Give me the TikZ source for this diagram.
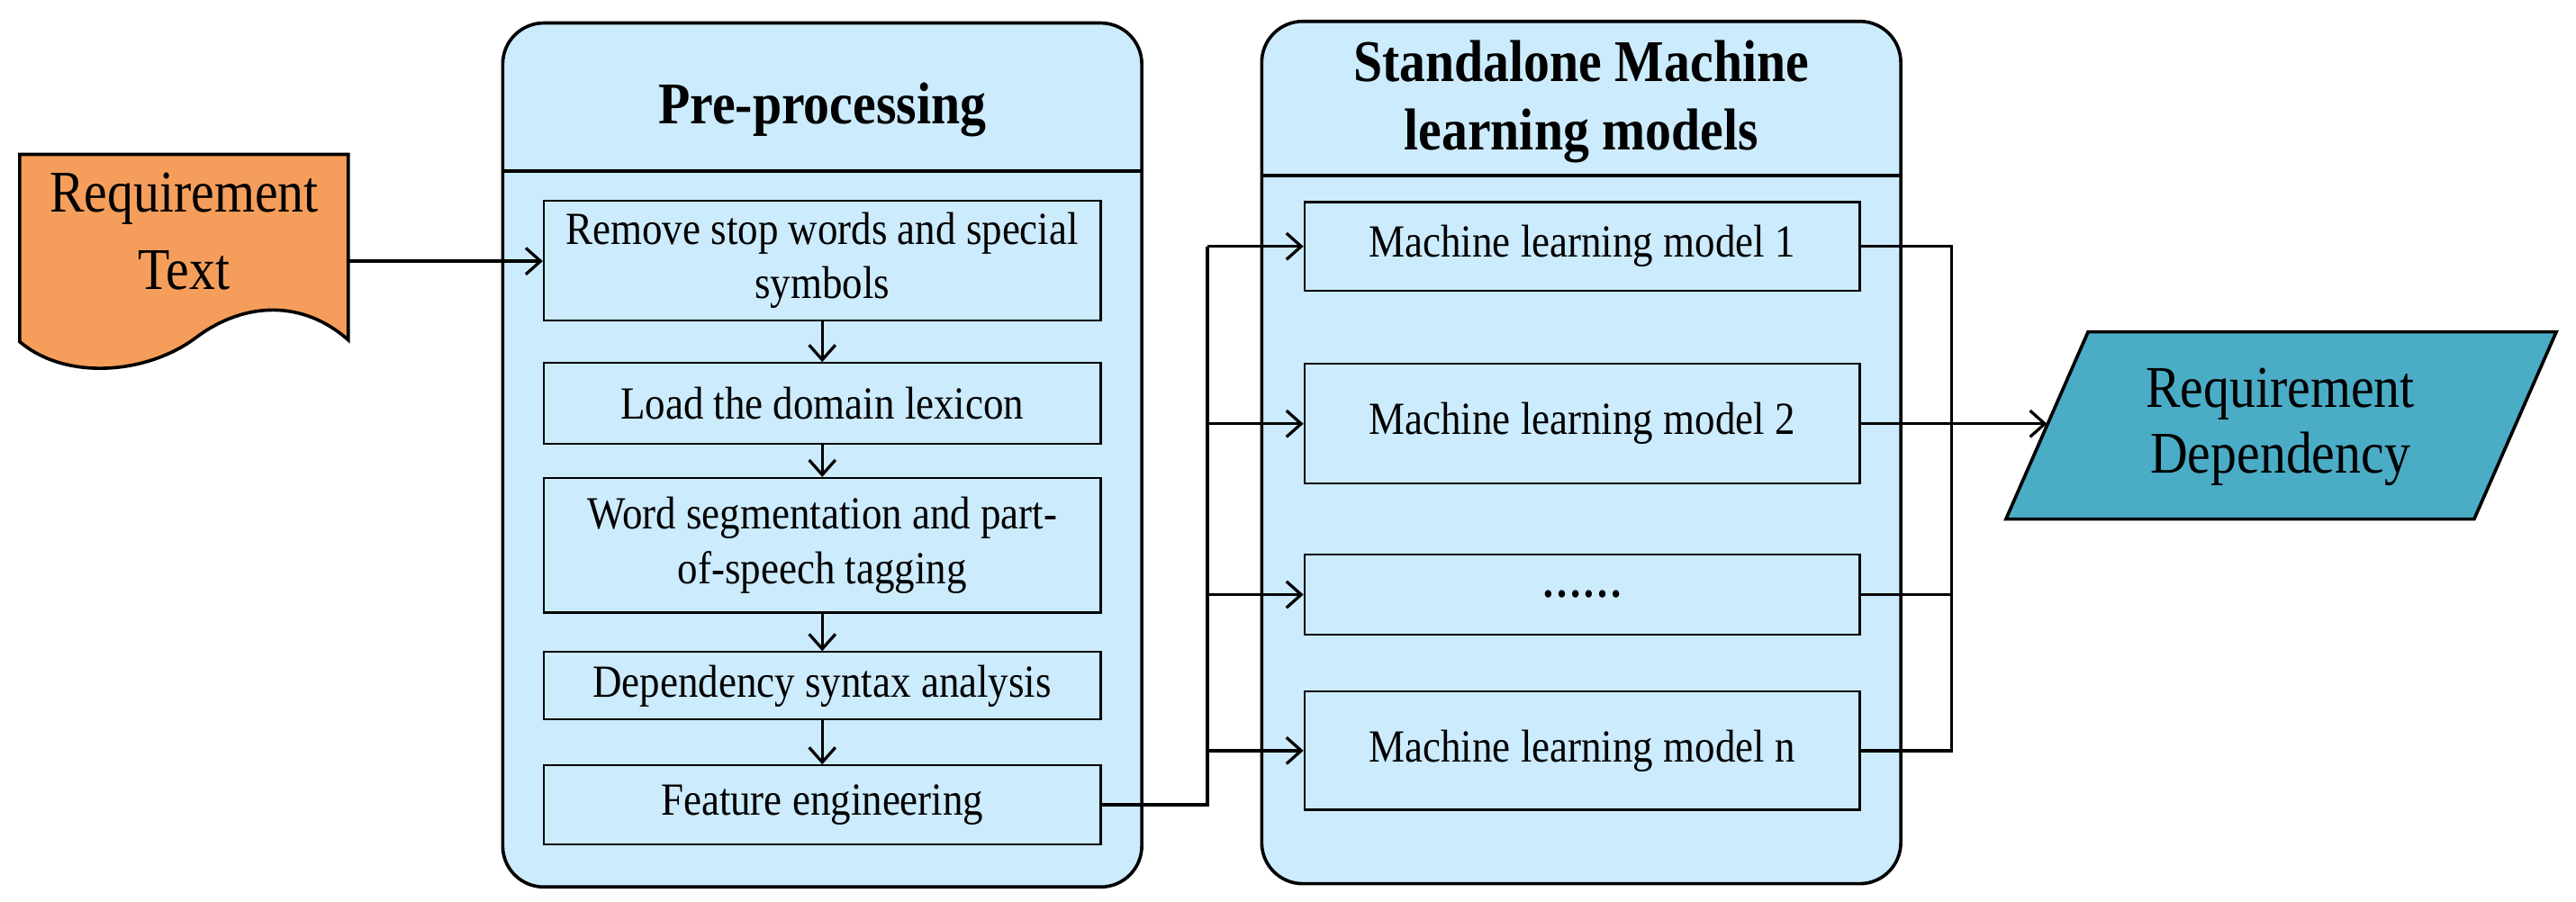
\documentclass[tikz,border=0pt]{standalone}
\usepackage{fontspec}
\setmainfont{Liberation Serif}[FakeStretch=0.88]
\usetikzlibrary{arrows.meta}
\definecolor{lb}{HTML}{CCEBFD}
\definecolor{org}{HTML}{F59E5B}
\definecolor{teal}{HTML}{4BACC6}
\begin{document}
\begin{tikzpicture}[x=1pt,y=-1pt,
  big/.style={draw,line width=2pt,fill=lb,rounded corners=25pt,inner sep=0},
  box/.style={draw,line width=1.2pt,fill=lb,inner sep=0,align=center,font=\fontsize{28}{33}\selectfont},
  title/.style={align=center,font=\bfseries\fontsize{36}{42}\selectfont},
  con/.style={line width=1.8pt},
  arr/.style={con,-{Straight Barb[length=9pt,width=16pt,line width=1.8pt]}}]
\useasboundingbox (0,0) rectangle (1568,549);
% document
\draw[line width=2pt,fill=org] (12,94) -- (212,94) -- (212,207) .. controls (185,183) and (150,183) .. (120,205) .. controls (90,228) and (40,232) .. (12,208) -- cycle;
\node[align=center,font=\fontsize{36}{47}\selectfont] (doc) at (112,141) {Requirement\\Text};
\coordinate (docr) at (212,159);
% pre-processing
\node[big,minimum width=389pt,minimum height=526pt] (pp) at (500.5,277) {};
\draw[line width=2pt] (306,104) -- (695,104);
\node[title] (ppt) at (500.5,67) {Pre-processing};
\node[box,minimum width=339pt,minimum height=73pt] (b1) at (500.5,158.5) {Remove stop words and special\\symbols};
\node[box,minimum width=339pt,minimum height=49pt] (b2) at (500.5,245.5) {Load the domain lexicon};
\node[box,minimum width=339pt,minimum height=82pt] (b3) at (500.5,332) {Word segmentation and part-\\of-speech tagging};
\node[box,minimum width=339pt,minimum height=41pt] (b4) at (500.5,417.5) {Dependency syntax analysis};
\node[box,minimum width=339pt,minimum height=48pt] (b5) at (500.5,490) {Feature engineering};
\draw[arr] (docr) -- (docr -| b1.west);
\draw[arr] (b1) -- (b2);
\draw[arr] (b2) -- (b3);
\draw[arr] (b3) -- (b4);
\draw[arr] (b4) -- (b5);
% models
\node[big,minimum width=389pt,minimum height=525pt] (ml) at (962.5,275.5) {};
\draw[line width=2pt] (768,107) -- (1157,107);
\node[title] (mlt) at (962.5,62) {Standalone Machine\\learning models};
\node[box,minimum width=338pt,minimum height=54pt] (m1) at (963,150) {Machine learning model 1};
\node[box,minimum width=338pt,minimum height=73pt] (m2) at (963,258) {Machine learning model 2};
\node[box,minimum width=338pt,minimum height=49pt] (m3) at (963,362) {\textbf{……}};
\node[box,minimum width=338pt,minimum height=72pt] (mn) at (963,457) {Machine learning model n};
\coordinate (jl) at (735,150);
\draw[con] (b5.east) -| (jl);
\draw[arr] (jl) -- (m1.west);
\draw[arr] (m2.west -| jl) -- (m2.west);
\draw[arr] (m3.west -| jl) -- (m3.west);
\draw[arr] (mn.west -| jl) -- (mn.west);
\coordinate (jr) at (1188,150);
\draw[con] (m1.east) -- (jr) |- (mn.east);
\draw[con] (m2.east) -- (m2.east -| jr);
\draw[con] (m3.east) -- (m3.east -| jr);
% output
\draw[line width=2pt,fill=teal] (1271,202) -- (1556,202) -- (1506,316) -- (1221,316) -- cycle;
\node[align=center,font=\fontsize{36}{40}\selectfont] (out) at (1388,260) {Requirement\\Dependency};
\coordinate (outl) at (1246,258);
\draw[arr] (m2.east -| jr) -- (outl);
\end{tikzpicture}
\end{document}
